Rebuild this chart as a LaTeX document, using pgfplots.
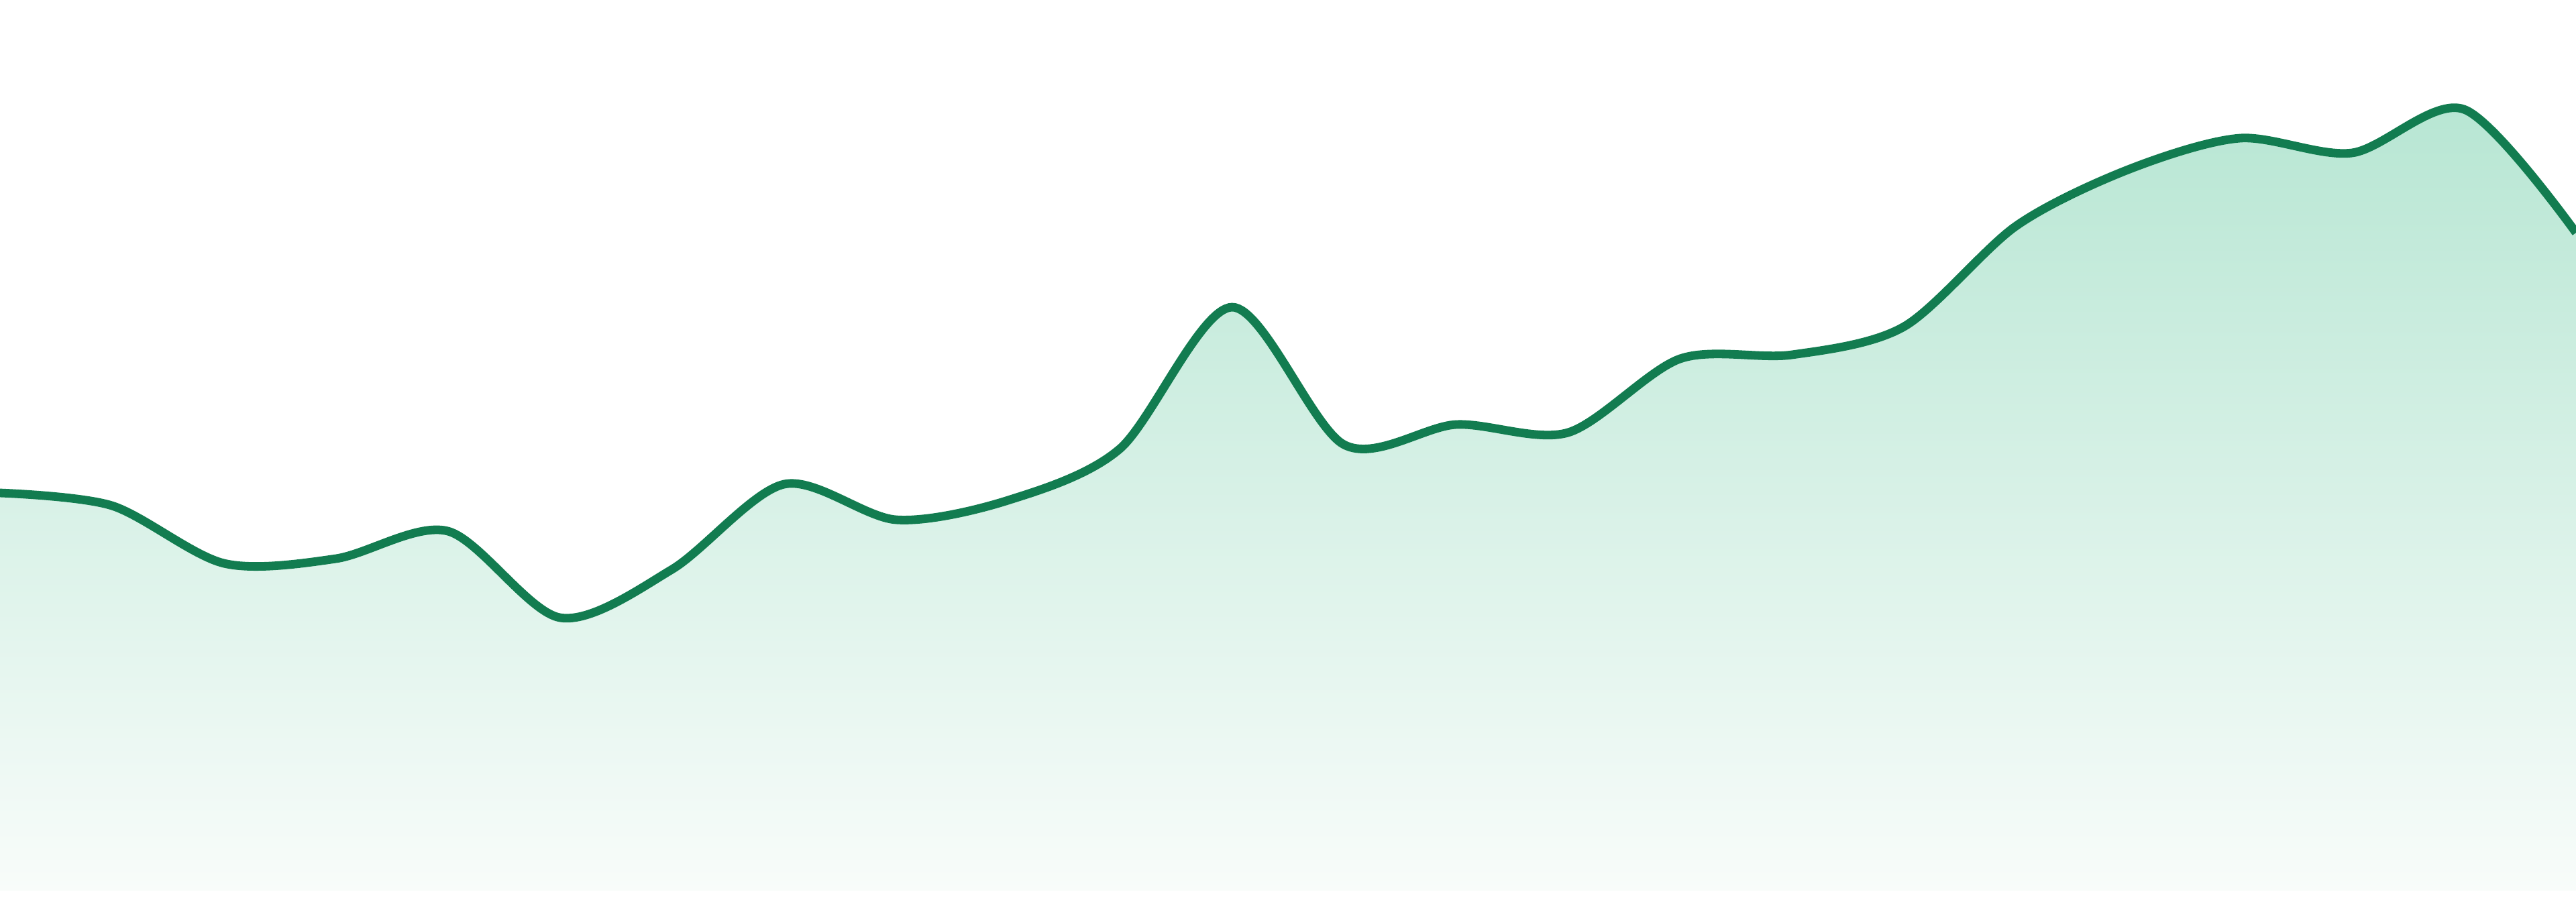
\documentclass[border=0pt]{standalone}
\usepackage{pgfplots}
\pgfplotsset{compat=1.18}
\definecolor{linegreen}{HTML}{127C50}
\definecolor{filltop}{HTML}{B7E6D3}
\definecolor{fillbot}{HTML}{F8FCFA}

\pgfplotstableread{
x y
0 609
1 590
2 504
3 511
4 552
5 423
6 495
7 622
8 569
9 598
10 675
11 886
12 681
13 711
14 699
15 809
16 815
17 857
18 1007
19 1091
20 1138
21 1116
22 1181
23 997
}\series

\begin{document}
\begin{tikzpicture}
\path[use as bounding box] (0,-0.0833cm) rectangle (20cm,6.9167cm);
\begin{axis}[
  at={(0,0)}, anchor=south west,
  scale only axis,
  width=20cm, height=6.9167cm,
  xmin=0, xmax=23,
  ymin=16, ymax=1344,
  hide axis,
]
% area under the curve, gradient to near white
\addplot[draw=none, shade, top color=filltop, bottom color=fillbot, smooth, tension=0.5]
  table[x=x, y=y] {\series} \closedcycle;
% the line itself
\addplot[linegreen, line width=1.9pt, smooth, tension=0.5]
  table[x=x, y=y] {\series};
\end{axis}
\end{tikzpicture}
\end{document}
